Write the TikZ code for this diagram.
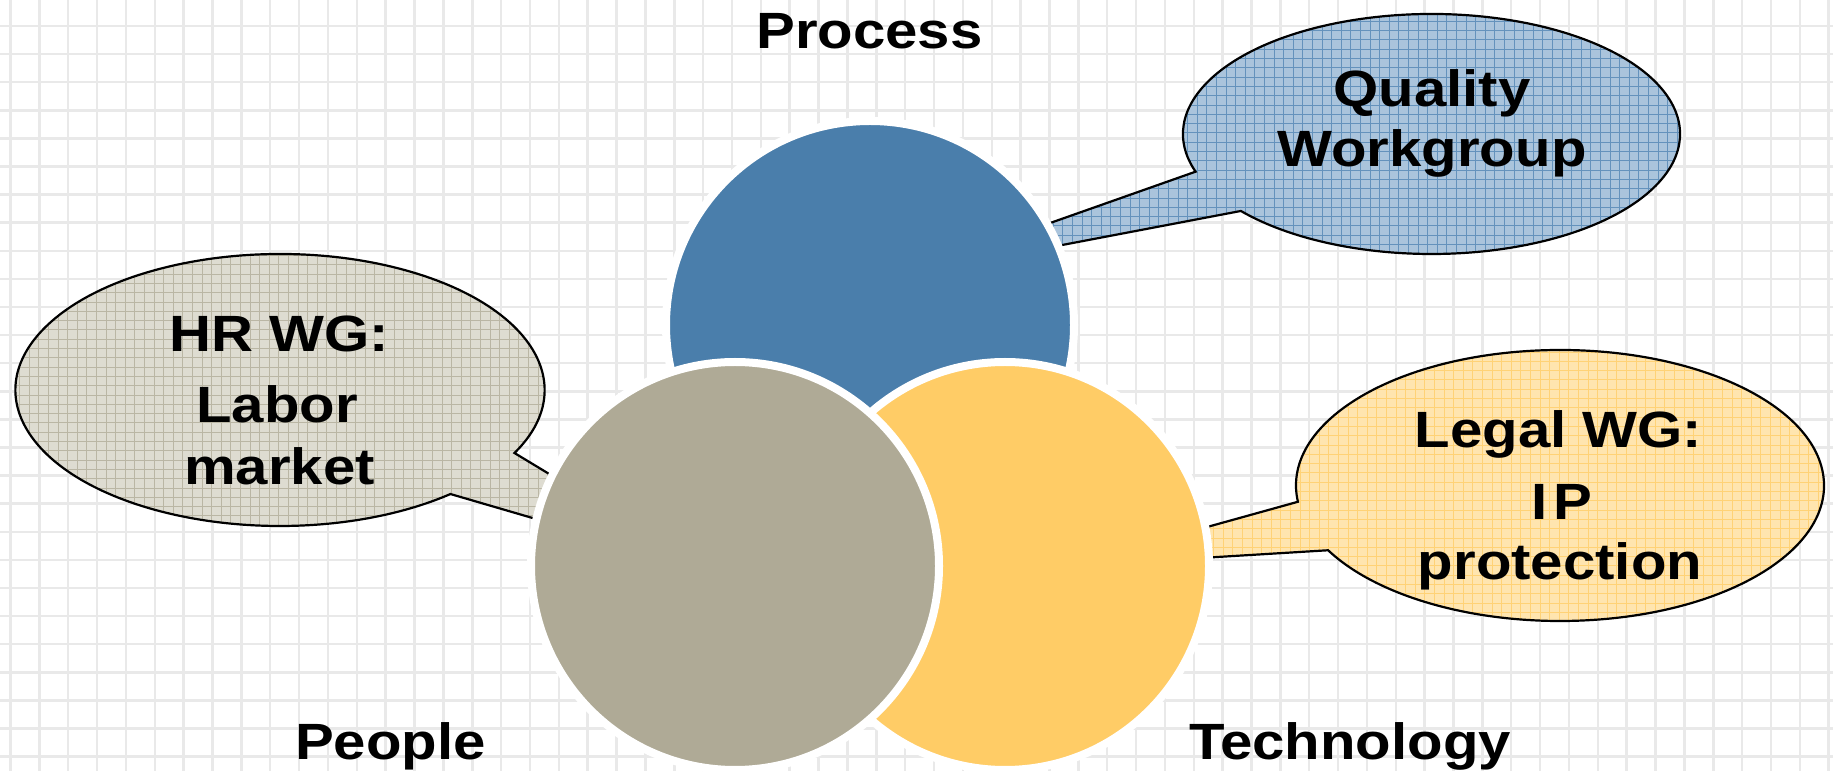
\documentclass[tikz,border=0pt]{standalone}
\usepackage{fontspec}
\newfontfamily\lblfont{Liberation Sans}[FakeStretch=1.14]
\definecolor{procblue}{RGB}{74,126,171}
\definecolor{peoplegray}{RGB}{175,170,150}
\definecolor{techyellow}{RGB}{255,204,102}
\definecolor{qfill}{RGB}{170,196,220}
\definecolor{qline}{RGB}{100,146,188}
\definecolor{hfill}{RGB}{222,220,209}
\definecolor{hline}{RGB}{186,182,164}
\definecolor{lfill}{RGB}{255,229,175}
\definecolor{lline}{RGB}{255,210,118}
\definecolor{gridc}{RGB}{233,233,233}
\tikzset{
  gridline/.style={draw=gridc, line width=2.5pt},
  venn/.style={circle, inner sep=0pt, minimum size=408pt, draw=white, line width=8pt},
  lbl/.style={font=\lblfont\bfseries\fontsize{51pt}{60pt}\selectfont, anchor=base, inner sep=0pt},
  calloutline/.style={draw=black, line width=2.2pt, line join=miter},
}
\newcommand\qualpath{([shift={(1431.5,637)}]198.3:248.5 and 120) arc[start angle=198.3, end angle=-140.1, x radius=248.5, y radius=120] -- (qtip) -- cycle}
\newcommand\hrpath{([shift={(280,381)}]-27.6:264.6 and 136) arc[start angle=-27.6, end angle=310.1, x radius=264.6, y radius=136] -- (htip) -- cycle}
\newcommand\legalpath{([shift={(1560,285.5)}]186.9:264 and 135.5) arc[start angle=186.9, end angle=-151.45, x radius=264, y radius=135.5] -- (ltip) -- cycle}
\begin{document}
\begin{tikzpicture}[x=1pt,y=1pt]
\useasboundingbox (0,0) rectangle (1833,771);
\fill[white] (0,0) rectangle (1833,771);
% background grid
\foreach \i in {0,...,63} \draw[gridline] ({10.5+28.86*\i},0) -- ({10.5+28.86*\i},771);
\foreach \j in {0,...,26} \draw[gridline] (0,{745-28.1*\j}) -- (1833,{745-28.1*\j});
% callout tips (hidden under the circles)
\coordinate (qtip) at (900.6,495.2);
\coordinate (htip) at (705.8,202.4);
\coordinate (ltip) at (1066,204.8);
% Quality callout
\fill[qfill] \qualpath;
\begin{scope}
  \clip \qualpath;
  \foreach \i in {0,...,85} \draw[qline, line width=0.9pt] ({890+9.6*\i},480) -- ({890+9.6*\i},771);
  \foreach \j in {0,...,32} \draw[qline, line width=0.9pt] (880,{480+9.3*\j}) -- (1700,{480+9.3*\j});
\end{scope}
\draw[calloutline] \qualpath;
% HR callout
\fill[hfill] \hrpath;
\begin{scope}
  \clip \hrpath;
  \foreach \i in {0,...,75} \draw[hline, line width=0.9pt] ({10+9.6*\i},190) -- ({10+9.6*\i},530);
  \foreach \j in {0,...,37} \draw[hline, line width=0.9pt] (0,{190+9.3*\j}) -- (730,{190+9.3*\j});
\end{scope}
\draw[calloutline] \hrpath;
% Legal callout
\fill[lfill] \legalpath;
\begin{scope}
  \clip \legalpath;
  \foreach \i in {0,...,80} \draw[lline, line width=0.9pt] ({1060+9.6*\i},140) -- ({1060+9.6*\i},430);
  \foreach \j in {0,...,32} \draw[lline, line width=0.9pt] (1050,{140+9.3*\j}) -- (1833,{140+9.3*\j});
\end{scope}
\draw[calloutline] \legalpath;
% Venn circles
\node[venn, fill=procblue] (process) at (870,446) {};
\node[venn, fill=techyellow] (technology) at (1005,205) {};
\node[venn, fill=peoplegray] (people) at (735,205) {};
% labels
\node[lbl] (processlbl) at (869.5,722.7) {Process};
\node[lbl] (peoplelbl) at (390.5,12) {People};
\node[lbl] (techlbl) at (1350,12) {Technology};
\node[lbl] (q1) at (1432,664) {Quality};
\node[lbl] (q2) at (1432,604.3) {Workgroup};
\node[lbl] (h1) at (279,419.3) {HR WG:};
\node[lbl] (h2) at (277,348.5) {Labor};
\node[lbl] (h3) at (279.5,286.7) {market};
\node[lbl] (l1) at (1558.5,323.3) {Legal WG:};
\node[lbl] (l2) at (1562,251.7) {I\kern6pt P};
\node[lbl] (l3) at (1560,191.7) {protection};
\end{tikzpicture}
\end{document}
